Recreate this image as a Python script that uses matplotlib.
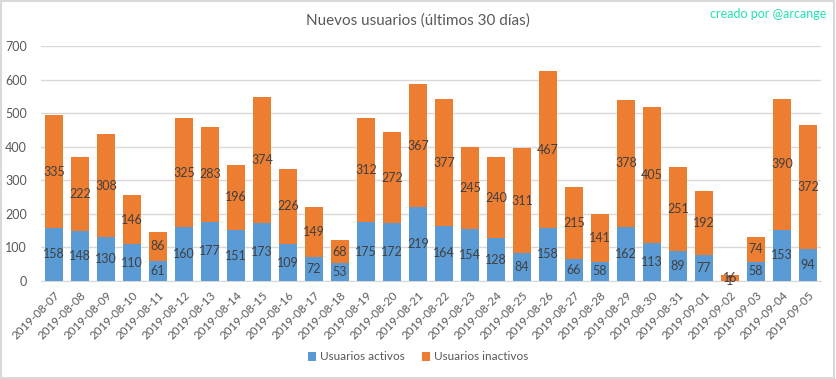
import numpy as np
import matplotlib.pyplot as plt
from matplotlib.patches import Rectangle

fechas = ["2019-08-07", "2019-08-08", "2019-08-09", "2019-08-10", "2019-08-11",
          "2019-08-12", "2019-08-13", "2019-08-14", "2019-08-15", "2019-08-16",
          "2019-08-17", "2019-08-18", "2019-08-19", "2019-08-20", "2019-08-21",
          "2019-08-22", "2019-08-23", "2019-08-24", "2019-08-25", "2019-08-26",
          "2019-08-27", "2019-08-28", "2019-08-29", "2019-08-30", "2019-08-31",
          "2019-09-01", "2019-09-02", "2019-09-03", "2019-09-04", "2019-09-05"]
activos = [158, 148, 130, 110, 61, 160, 177, 151, 173, 109, 72, 53, 175, 172, 219,
           164, 154, 128, 84, 158, 66, 58, 162, 113, 89, 77, 1, 58, 153, 94]
inactivos = [335, 222, 308, 146, 86, 325, 283, 196, 374, 226, 149, 68, 312, 272, 367,
             377, 245, 240, 311, 467, 215, 141, 378, 405, 251, 192, 16, 74, 390, 372]

plt.rcParams['font.family'] = ['Lato', 'DejaVu Sans']

azul = '#5B9BD5'
naranja = '#ED7D31'
gris = '#595959'

fig = plt.figure(figsize=(8.36, 3.79), dpi=100)
ax = fig.add_axes([41 / 836, 1 - 281 / 379, 780 / 836, 235 / 379])

x = np.arange(len(fechas))
b1 = ax.bar(x, activos, width=0.73, color=azul, label='Usuarios activos', zorder=3)
b2 = ax.bar(x, inactivos, width=0.73, bottom=activos, color=naranja,
            label='Usuarios inactivos', zorder=3)
# etiquetas dentro de cada segmento
ax.bar_label(b1, label_type='center', fontsize=9, color='#404040')
ax.bar_label(b2, label_type='center', fontsize=9, color='#404040')

ax.set_xlim(-0.5, len(fechas) - 0.5)
ax.set_ylim(0, 700)
ax.set_yticks(range(0, 701, 100))
ax.yaxis.grid(True, color='#D9D9D9', lw=1, zorder=0)
for s in ['top', 'right', 'left']:
    ax.spines[s].set_visible(False)
ax.spines['bottom'].set_color('#D9D9D9')
ax.tick_params(axis='both', length=0, colors=gris, labelsize=9)
ax.tick_params(axis='y', pad=10)
ax.tick_params(axis='x', labelsize=8.3, pad=6)
ax.set_xticks(x)
ax.set_xticklabels(fechas, rotation=45, ha='right', rotation_mode='anchor')

fig.text(0.5, 1 - 21 / 379, 'Nuevos usuarios (últimos 30 días)', ha='center',
         va='center', fontsize=11, color=gris)
fig.text(826 / 836, 1 - 14 / 379, 'creado por @arcange', ha='right', va='center',
         fontsize=9, color='#20E3B2')

fig.legend(handles=[b1, b2], loc='center', bbox_to_anchor=(0.5, 1 - 357 / 379),
           ncol=2, frameon=False, fontsize=8.5, labelcolor=gris, handlelength=0.7,
           handleheight=0.7, handletextpad=0.3, columnspacing=1.5)

fig.patches.append(Rectangle((0.001, 0.002), 0.997, 0.995, transform=fig.transFigure,
                             fill=False, edgecolor='#D9D9D9', lw=1.5))

fig.savefig('out.png', dpi=100)
